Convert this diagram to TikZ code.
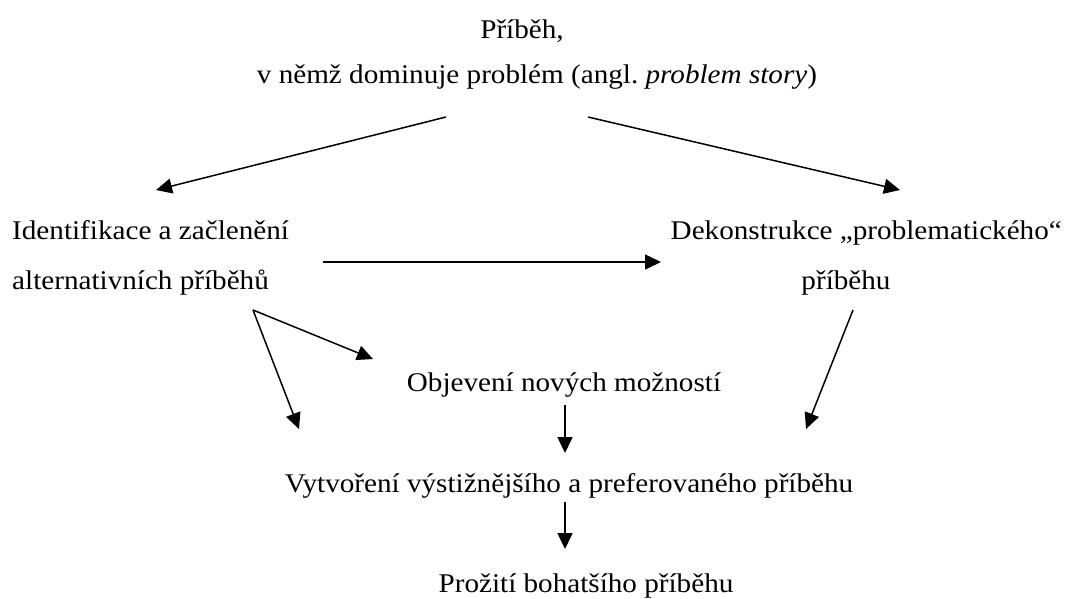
\documentclass[tikz,border=0pt]{standalone}
\usepackage{fontspec}
\setmainfont[FakeStretch=1.08]{Liberation Serif}
\usetikzlibrary{arrows.meta}
\begin{document}
\begin{tikzpicture}[x=1pt,y=-1pt,
  lbl/.style={inner sep=0pt,font=\fontsize{27}{31}\selectfont},
  arr/.style={line width=1.5pt,-{Triangle[length=16pt,width=15pt]}}]
\useasboundingbox (0,0) rectangle (1068,598);
\node[lbl,anchor=base] (t1) at (522,38) {Příběh,};
\node[lbl,anchor=base] (t2) at (537,83) {v němž dominuje problém (angl.\ \textit{problem story})};
\node[lbl,anchor=base west] (l1) at (12,239) {Identifikace a začlenění};
\node[lbl,anchor=base west] (l2) at (12,289) {alternativních příběhů};
\node[lbl,anchor=base east] (r1) at (1062,239) {Dekonstrukce „problematického“};
\node[lbl,anchor=base] (r2) at (846,289) {příběhu};
\node[lbl,anchor=base] (o) at (564,391) {Objevení nových možností};
\node[lbl,anchor=base] (v) at (569,492) {Vytvoření výstižnějšího a preferovaného příběhu};
\node[lbl,anchor=base] (p) at (586,592) {Prožití bohatšího příběhu};
% arrow end points
\coordinate (a1s) at (446,117);
\coordinate (a1e) at (156,190);
\coordinate (a2s) at (588,117);
\coordinate (a2e) at (900,190);
\coordinate (hs) at (323,262);
\coordinate (he) at (661,262);
\coordinate (bs) at (253,310);
\coordinate (be1) at (373,359);
\coordinate (be2) at (299,429);
\coordinate (rs) at (853,310);
\coordinate (re) at (806,429);
\coordinate (m1s) at (565,405);
\coordinate (m1e) at (565,453);
\coordinate (m2s) at (565,502);
\coordinate (m2e) at (565,549);
\draw[arr] (a1s) -- (a1e);
\draw[arr] (a2s) -- (a2e);
\draw[arr] (hs) -- (he);
\draw[arr] (bs) -- (be1);
\draw[arr] (bs) -- (be2);
\draw[arr] (rs) -- (re);
\draw[arr] (m1s) -- (m1e);
\draw[arr] (m2s) -- (m2e);
\end{tikzpicture}
\end{document}
